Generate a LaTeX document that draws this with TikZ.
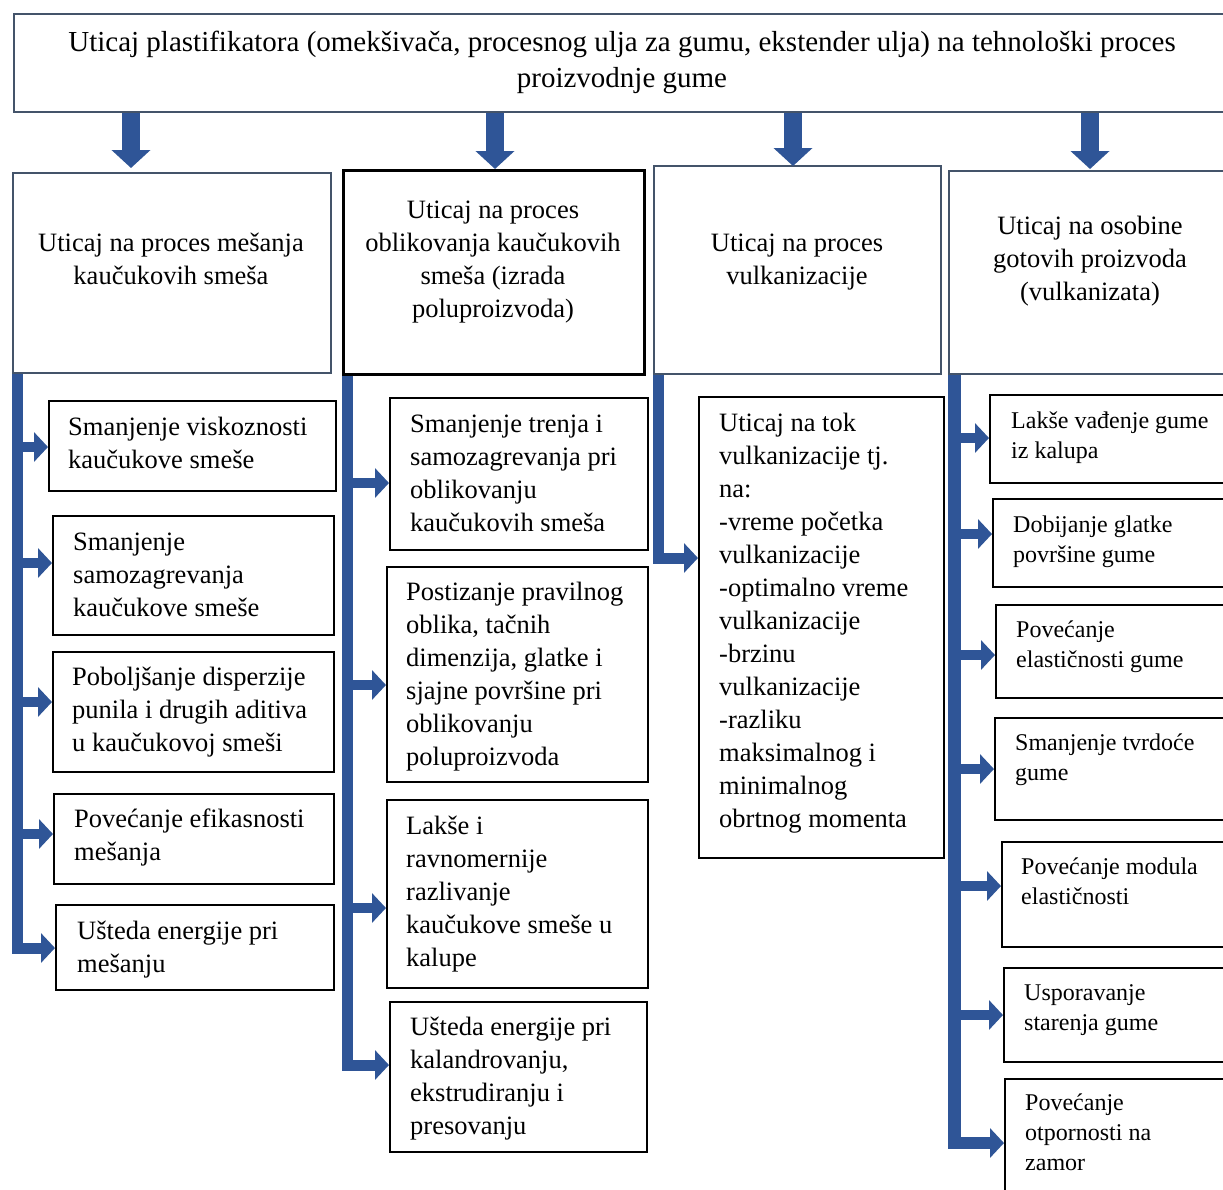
\documentclass[tikz,border=0pt]{standalone}
\usepackage{fontspec}
\setmainfont{Liberation Serif}
\usetikzlibrary{arrows.meta,calc}
\definecolor{slate}{RGB}{68,84,106}
\definecolor{arrowblue}{RGB}{47,85,151}
\newcommand\firstln{\rule{0pt}{21pt}}
\begin{document}
\begin{tikzpicture}[x=1pt,y=-1pt,
  gbox/.style={draw=slate,line width=2pt,inner sep=0,anchor=north west},
  kbox/.style={draw=black,line width=1.6pt,inner sep=0,anchor=north west},
  topfont/.style={font=\fontsize{29}{36}\selectfont},
  hdrtxt/.style={font=\fontsize{26.5}{33}\selectfont,align=center,inner sep=0,anchor=north},
  subtxt/.style={font=\fontsize{26.5}{33}\selectfont,align=left,inner sep=0,anchor=north west},
  smtxt/.style={font=\fontsize{24}{30}\selectfont,align=left,inner sep=0,anchor=north west},
  downarrow/.style={draw=arrowblue,line width=18pt,-{Triangle[length=18pt,width=38pt]}},
  bar/.style={draw=arrowblue,line width=11pt,line join=miter,-{Triangle[length=14pt,width=29pt]}},
  branch/.style={draw=arrowblue,line width=10.5pt,-{Triangle[length=14pt,width=29pt]}}
]
\clip (0,0) rectangle (1223,1189);
\fill[white] (0,0) rectangle (1223,1189);

% top box
\node[gbox,minimum width=1218pt,minimum height=98pt] (top) at (13,13) {};
\node[hdrtxt,topfont] (toptxt) at (622,30) {\firstln Uticaj plastifikatora (omekšivača, procesnog ulja za gumu, ekstender ulja) na tehnološki proces\\proizvodnje gume};

% column headers
\node[gbox,minimum width=318pt,minimum height=200pt] (h1) at (12,172) {};
\node[draw=black,line width=2.6pt,inner sep=0,anchor=north west,minimum width=301pt,minimum height=204pt] (h2) at (342,169) {};
\node[gbox,minimum width=287pt,minimum height=208pt] (h3) at (653,165) {};
\node[gbox,minimum width=284pt,minimum height=203pt] (h4) at (948,170) {};

\node[hdrtxt] (h1t) at (171,230) {\firstln Uticaj na proces mešanja\\kaučukovih smeša};
\node[hdrtxt] (h2t) at (493,197) {\firstln Uticaj na proces\\oblikovanja kaučukovih\\smeša (izrada\\poluproizvoda)};
\node[hdrtxt] (h3t) at (797,230) {\firstln Uticaj na proces\\vulkanizacije};
\node[hdrtxt] (h4t) at (1090,213) {\firstln Uticaj na osobine\\gotovih proizvoda\\(vulkanizata)};

% down arrows
\draw[downarrow] (top.south -| 131,0) -- (131,168);
\draw[downarrow] (top.south -| 495,0) -- (h2.north -| 495,0);
\draw[downarrow] (top.south -| 793,0) -- (793,166);
\draw[downarrow] (top.south -| 1090,0) -- (1090,169);

% column 1 boxes
\node[kbox,minimum width=287pt,minimum height=90pt] (a1) at (48,400) {};
\node[kbox,minimum width=281pt,minimum height=119pt] (a2) at (52,515) {};
\node[kbox,minimum width=281pt,minimum height=120pt] (a3) at (52,651) {};
\node[kbox,minimum width=280pt,minimum height=90pt] (a4) at (53,793) {};
\node[kbox,minimum width=278pt,minimum height=85pt] (a5) at (55,904) {};
\node[subtxt] (a1t) at (68,414) {\firstln Smanjenje viskoznosti\\kaučukove smeše};
\node[subtxt] (a2t) at (73,529) {\firstln Smanjenje\\samozagrevanja\\kaučukove smeše};
\node[subtxt] (a3t) at (72,664) {\firstln Poboljšanje disperzije\\punila i drugih aditiva\\u kaučukovoj smeši};
\node[subtxt] (a4t) at (74,806) {\firstln Povećanje efikasnosti\\mešanja};
\node[subtxt] (a5t) at (77,918) {\firstln Ušteda energije pri\\mešanju};

% column 2 boxes
\node[kbox,minimum width=258pt,minimum height=152pt] (b1) at (389,397) {};
\node[kbox,minimum width=261pt,minimum height=215pt] (b2) at (386,566) {};
\node[kbox,minimum width=261pt,minimum height=188pt] (b3) at (386,799) {};
\node[kbox,minimum width=257pt,minimum height=150pt] (b4) at (389,1001) {};
\node[subtxt] (b1t) at (410,411) {\firstln Smanjenje trenja i\\samozagrevanja pri\\oblikovanju\\kaučukovih smeša};
\node[subtxt] (b2t) at (406,579) {\firstln Postizanje pravilnog\\oblika, tačnih\\dimenzija, glatke i\\sjajne površine pri\\oblikovanju\\poluproizvoda};
\node[subtxt] (b3t) at (406,813) {\firstln Lakše i\\ravnomernije\\razlivanje\\kaučukove smeše u\\kalupe};
\node[subtxt] (b4t) at (410,1014) {\firstln Ušteda energije pri\\kalandrovanju,\\ekstrudiranju i\\presovanju};

% column 3 box
\node[kbox,minimum width=245pt,minimum height=461pt] (c1) at (698,396) {};
\node[subtxt] (c1t) at (719,410) {\firstln Uticaj na tok\\vulkanizacije tj.\\na:\\-vreme početka\\vulkanizacije\\-optimalno vreme\\vulkanizacije\\-brzinu\\vulkanizacije\\-razliku\\maksimalnog i\\minimalnog\\obrtnog momenta};

% column 4 boxes
\node[kbox,minimum width=245pt,minimum height=88pt] (d1) at (989,394) {};
\node[kbox,minimum width=245pt,minimum height=88pt] (d2) at (992,498) {};
\node[kbox,minimum width=245pt,minimum height=93pt] (d3) at (995,604) {};
\node[kbox,minimum width=245pt,minimum height=102pt] (d4) at (994,717) {};
\node[kbox,minimum width=245pt,minimum height=105pt] (d5) at (1001,841) {};
\node[kbox,minimum width=245pt,minimum height=94pt] (d6) at (1003,967) {};
\node[kbox,minimum width=245pt,minimum height=130pt] (d7) at (1004,1078) {};
\node[smtxt] (d1t) at (1011,407) {\firstln Lakše vađenje gume\\iz kalupa};
\node[smtxt] (d2t) at (1013,511) {\firstln Dobijanje glatke\\površine gume};
\node[smtxt] (d3t) at (1016,616) {\firstln Povećanje\\elastičnosti gume};
\node[smtxt] (d4t) at (1015,729) {\firstln Smanjenje tvrdoće\\gume};
\node[smtxt] (d5t) at (1021,853) {\firstln Povećanje modula\\elastičnosti};
\node[smtxt] (d6t) at (1024,979) {\firstln Usporavanje\\starenja gume};
\node[smtxt] (d7t) at (1025,1089) {\firstln Povećanje\\otpornosti na\\zamor};

% bars
\coordinate (s1) at ($(h1.south west)+(5.5,0)$);
\coordinate (s2) at ($(h2.south west)+(5.5,0)$);
\coordinate (s3) at ($(h3.south west)+(5.5,0)$);
\coordinate (s4) at ($(h4.south west)+(6.5,0)$);

\draw[bar] (s1) |- (a5.west |- 0,948);
\draw[branch] (s1 |- 0,447) -- (a1.west |- 0,447);
\draw[branch] (s1 |- 0,563) -- (a2.west |- 0,563);
\draw[branch] (s1 |- 0,702) -- (a3.west |- 0,702);
\draw[branch] (s1 |- 0,834) -- (a4.west |- 0,834);

\draw[bar] (s2) |- (b4.west |- 0,1065);
\draw[branch] (s2 |- 0,483) -- (b1.west |- 0,483);
\draw[branch] (s2 |- 0,685) -- (b2.west |- 0,685);
\draw[branch] (s2 |- 0,908) -- (b3.west |- 0,908);

\draw[bar] (s3) |- (c1.west |- 0,558);

\draw[bar,line width=12.5pt] (s4) |- (d7.west |- 0,1143);
\draw[branch] (s4 |- 0,438) -- (d1.west |- 0,438);
\draw[branch] (s4 |- 0,534) -- (d2.west |- 0,534);
\draw[branch] (s4 |- 0,655) -- (d3.west |- 0,655);
\draw[branch] (s4 |- 0,769) -- (d4.west |- 0,769);
\draw[branch] (s4 |- 0,886) -- (d5.west |- 0,886);
\draw[branch] (s4 |- 0,1015) -- (d6.west |- 0,1015);
\end{tikzpicture}
\end{document}
